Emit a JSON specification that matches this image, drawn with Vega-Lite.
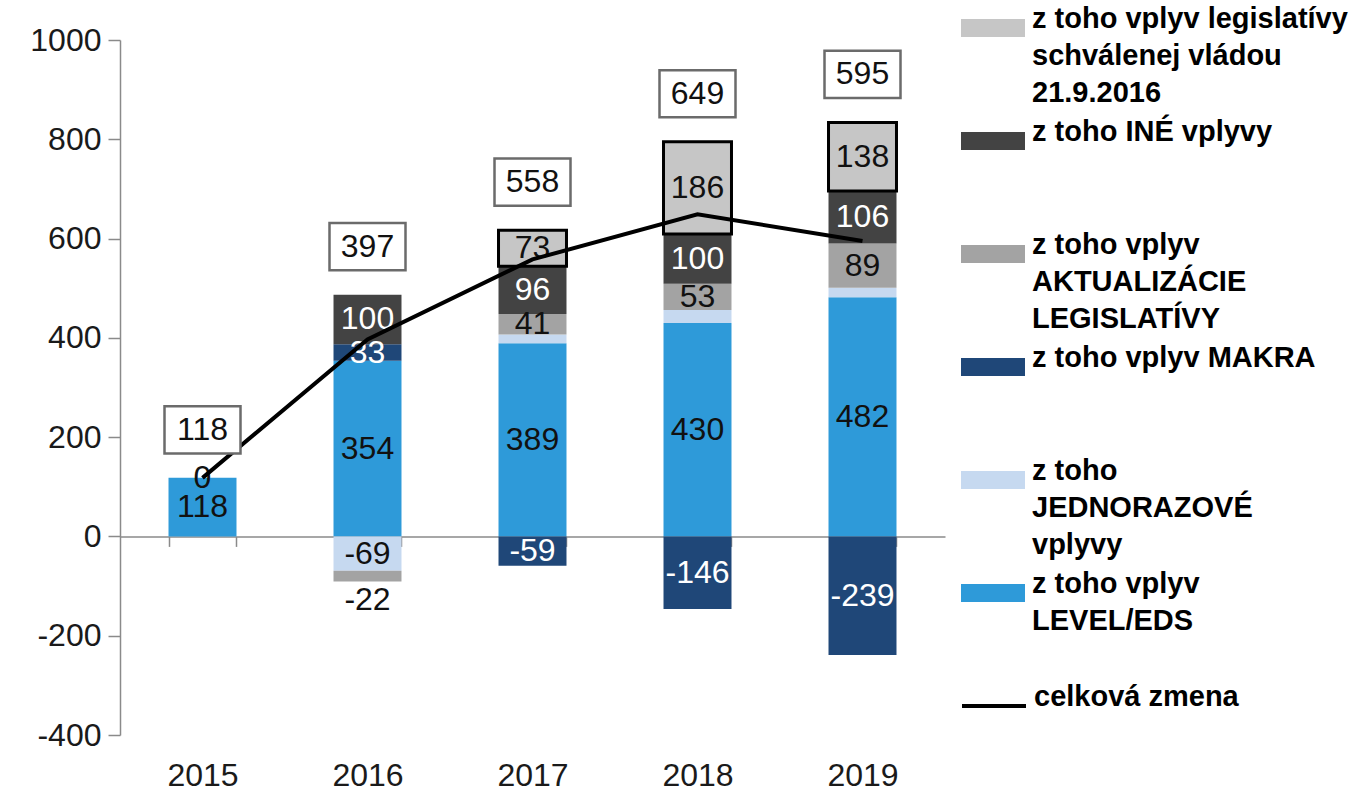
{
  "$schema": "https://vega.github.io/schema/vega-lite/v6.json",
  "autosize": {"type": "none"},
  "width": 825,
  "height": 695,
  "padding": {"left": 120, "top": 40, "right": 423, "bottom": 58},
  "background": "white",
  "config": {
    "font": "Liberation Sans",
    "view": {"stroke": null},
    "style": {"guide-label": {"lineHeight": 37}},
    "axis": {"labelFont": "Liberation Sans", "labelFontSize": 32, "labelColor": "#1a1a1a", "domainColor": "#8a8a8a", "tickColor": "#8a8a8a", "domainWidth": 1.5, "tickWidth": 1.5, "grid": false, "title": null}
  },
  "datasets": {
    "bars": [
      {"year": "2015", "s": "LEV", "v": 118, "ord": 1},
      {"year": "2015", "s": "MAK", "v": 0, "ord": 3},
      {"year": "2016", "s": "LEV", "v": 354, "ord": 1},
      {"year": "2016", "s": "JED", "v": -69, "ord": 2},
      {"year": "2016", "s": "MAK", "v": 33, "ord": 3},
      {"year": "2016", "s": "AKT", "v": -22, "ord": 4},
      {"year": "2016", "s": "INE", "v": 100, "ord": 5},
      {"year": "2017", "s": "LEV", "v": 389, "ord": 1},
      {"year": "2017", "s": "JED", "v": 18, "ord": 2},
      {"year": "2017", "s": "MAK", "v": -59, "ord": 3},
      {"year": "2017", "s": "AKT", "v": 41, "ord": 4},
      {"year": "2017", "s": "INE", "v": 96, "ord": 5},
      {"year": "2017", "s": "LEG", "v": 73, "ord": 6},
      {"year": "2018", "s": "LEV", "v": 430, "ord": 1},
      {"year": "2018", "s": "JED", "v": 26, "ord": 2},
      {"year": "2018", "s": "MAK", "v": -146, "ord": 3},
      {"year": "2018", "s": "AKT", "v": 53, "ord": 4},
      {"year": "2018", "s": "INE", "v": 100, "ord": 5},
      {"year": "2018", "s": "LEG", "v": 186, "ord": 6},
      {"year": "2019", "s": "LEV", "v": 482, "ord": 1},
      {"year": "2019", "s": "JED", "v": 19, "ord": 2},
      {"year": "2019", "s": "MAK", "v": -239, "ord": 3},
      {"year": "2019", "s": "AKT", "v": 89, "ord": 4},
      {"year": "2019", "s": "INE", "v": 106, "ord": 5},
      {"year": "2019", "s": "LEG", "v": 138, "ord": 6}
    ],
    "totals": [
      {"year": "2015", "total": 118, "s": "celková zmena"},
      {"year": "2016", "total": 397, "s": "celková zmena"},
      {"year": "2017", "total": 558, "s": "celková zmena"},
      {"year": "2018", "total": 649, "s": "celková zmena"},
      {"year": "2019", "total": 595, "s": "celková zmena"}
    ]
  },
  "encoding": {
    "x": {
      "field": "year", "type": "nominal",
      "scale": {"paddingInner": 0.588, "paddingOuter": 0.294},
      "axis": {"orient": "bottom", "offset": -198.6, "labelAngle": 0, "tickBand": "extent", "tickSize": 10, "labelPadding": 214}
    }
  },
  "layer": [
    {
      "data": {"name": "bars"},
      "transform": [{"stack": "v", "groupby": ["year"], "sort": [{"field": "ord", "order": "ascending"}], "as": ["v0", "v1"]}],
      "mark": {"type": "bar"},
      "encoding": {
        "y": {
          "field": "v0", "type": "quantitative",
          "scale": {"domain": [-400, 1000], "nice": false},
          "axis": {"values": [-400, -200, 0, 200, 400, 600, 800, 1000], "tickSize": 12, "labelPadding": 7, "labelExpr": "toString(datum.value)"}
        },
        "y2": {"field": "v1"},
        "color": {
          "field": "s", "type": "nominal",
          "scale": {
            "domain": ["LEG", "INE", "AKT", "MAK", "JED", "LEV"],
            "range": ["#c6c6c6", "#434343", "#a3a3a3", "#1f4778", "#c6d9f0", "#2e9ad9"]
          },
          "legend": {
            "orient": "none",
            "legendX": 840,
            "legendY": -45,
            "title": null,
            "padding": 0,
            "symbolSize": 4096,
            "symbolType": "M-1,-0.28H1V0.28H-1Z",
            "labelFont": "Liberation Sans",
            "labelFontSize": 29,
            "labelFontWeight": "bold",
            "labelColor": "#000000",
            "labelBaseline": "alphabetic",
            "labelOffset": 6,
            "labelLimit": 400,
            "rowPadding": 0,
            "labelExpr": "datum.value == 'LEG' ? ['z toho vplyv legislatívy', 'schválenej vládou', '21.9.2016'] : datum.value == 'INE' ? ['z toho INÉ vplyvy', ' ', ' '] : datum.value == 'AKT' ? ['z toho vplyv', 'AKTUALIZÁCIE', 'LEGISLATÍVY'] : datum.value == 'MAK' ? ['z toho vplyv MAKRA', ' ', ' '] : datum.value == 'JED' ? ['z toho', 'JEDNORAZOVÉ', 'vplyvy'] : ['z toho vplyv', 'LEVEL/EDS', ' ']"
          }
        },
        "stroke": {"condition": {"test": "datum.s == 'LEG'", "value": "#000000"}, "value": "transparent"},
        "strokeWidth": {"condition": {"test": "datum.s == 'LEG'", "value": 3}, "value": 0}
      }
    },
    {
      "data": {"name": "bars"},
      "transform": [
        {"stack": "v", "groupby": ["year"], "sort": [{"field": "ord", "order": "ascending"}], "as": ["v0", "v1"]},
        {"filter": "!(datum.s == 'JED' && datum.v > 0)"},
        {"calculate": "(datum.v < 0 && datum.v > -30) ? min(datum.v0, datum.v1) - 37 : (datum.v0 + datum.v1) / 2", "as": "ly"}
      ],
      "mark": {"type": "text", "fontSize": 32, "baseline": "middle", "align": "center"},
      "encoding": {
        "y": {"field": "ly", "type": "quantitative"},
        "text": {"field": "v", "type": "nominal"},
        "color": {
          "condition": {"test": "(datum.s == 'INE' || datum.s == 'MAK') && datum.v != 0", "value": "#ffffff"},
          "value": "#111111"
        }
      }
    },
    {
      "data": {"name": "totals"},
      "mark": {"type": "line", "strokeWidth": 4, "interpolate": "linear"},
      "encoding": {
        "y": {"field": "total", "type": "quantitative"},
        "stroke": {
          "field": "s", "type": "nominal",
          "scale": {"domain": ["celková zmena"], "range": ["#000000"]},
          "legend": {
            "orient": "none",
            "legendX": 840,
            "legendY": 632,
            "title": null,
            "padding": 0,
            "symbolType": "stroke",
            "symbolSize": 4096,
            "symbolStrokeWidth": 4,
            "labelFont": "Liberation Sans",
            "labelFontSize": 29,
            "labelFontWeight": "bold",
            "labelColor": "#000000",
            "labelBaseline": "alphabetic",
            "labelOffset": 6,
            "labelLimit": 400
          }
        }
      }
    },
    {
      "data": {"name": "bars"},
      "transform": [
        {"filter": "datum.v > 0"},
        {"aggregate": [{"op": "sum", "field": "v", "as": "top"}], "groupby": ["year"]},
        {"lookup": "year", "from": {"data": {"name": "totals"}, "key": "year", "fields": ["total"]}}
      ],
      "layer": [
        {
          "mark": {"type": "point", "shape": "M-1,-0.62H1V0.62H-1Z", "size": 5776, "filled": true, "fill": "#ffffff", "stroke": "#6b6b6b", "strokeWidth": 2.5, "opacity": 1, "yOffset": -48},
          "encoding": {"y": {"field": "top", "type": "quantitative"}}
        },
        {
          "mark": {"type": "text", "fontSize": 32, "baseline": "middle", "align": "center", "color": "#111111", "yOffset": -48},
          "encoding": {
            "y": {"field": "top", "type": "quantitative"},
            "text": {"field": "total", "type": "nominal"}
          }
        }
      ]
    }
  ]
}
